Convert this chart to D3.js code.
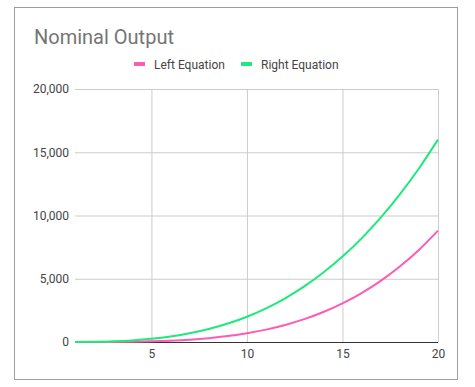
<!DOCTYPE html>
<html>
<head>
<meta charset="utf-8">
<script src="https://cdn.jsdelivr.net/npm/d3@7"></script>
<style>
  body { margin: 0; background: #fff; }
  text { font-family: Roboto, "Noto Sans", sans-serif; }
</style>
</head>
<body>
<script>
// values
var xValues = [1, 2, 3, 4, 5, 6, 7, 8, 9, 10, 11, 12, 13, 14, 15, 16, 17, 18, 19, 20]
var leftEquation = [0, 2, 8, 24, 54, 106, 186, 304, 468, 690, 979, 1348, 1805, 2372, 3056, 3872, 4835, 5971, 7278, 8800]
var rightEquation = [2, 16, 54, 128, 250, 432, 686, 1024, 1458, 2000, 2662, 3456, 4394, 5488, 6750, 8192, 9826, 11664, 13718, 16000]
var xTicks = [5, 10, 15, 20]
var yTicks = [0, 5000, 10000, 15000, 20000]
var seriesNames = ["Left Equation", "Right Equation"]
var seriesColors = ["#ff5ab4", "#1ee97a"]

var w = 475
var h = 387
var plotLeft = 75, plotRight = 438, plotTop = 89, plotBottom = 342

var svg = d3.select("body")
            .append("svg")
            .attr("width", w)
            .attr("height", h)

// outer frame
svg.append("rect")
  .attr("x", 14.5).attr("y", 7.5)
  .attr("width", 443).attr("height", 372)
  .attr("fill", "#fff")
  .attr("stroke", "#9e9e9e")

// title
svg.append("text")
  .attr("x", 34).attr("y", 44)
  .attr("font-size", 20)
  .attr("fill", "#757575")
  .text("Nominal Output")

// legend
var legendX = [134, 241]
seriesNames.forEach(function (name, i) {
  svg.append("rect")
    .attr("x", legendX[i]).attr("y", 62)
    .attr("width", 11).attr("height", 4)
    .attr("fill", seriesColors[i])
  svg.append("text")
    .attr("x", legendX[i] + 20).attr("y", 68.5)
    .attr("font-size", 12)
    .attr("fill", "#444")
    .text(name)
})

const xScale = d3.scaleLinear()
  .domain([1, 20])
  .range([plotLeft, plotRight])

const yScale = d3.scaleLinear()
  .domain([0, 20000])
  .range([plotBottom, plotTop])

// horizontal gridlines + y labels
const yAxis = d3.axisLeft(yScale)
  .tickValues(yTicks)
  .tickSize(-(plotRight - plotLeft))
  .tickPadding(6)
  .tickFormat(d3.format(","))
svg.append("g")
  .attr("transform", "translate(" + plotLeft + ",0)")
  .call(yAxis)
  .call(g => g.select(".domain").remove())
  .call(g => g.selectAll("line").attr("stroke", "#cccccc"))
  .call(g => g.selectAll("text").attr("font-size", 12).attr("fill", "#444").attr("font-family", "Roboto"))

// vertical gridlines + x labels
const xAxis = d3.axisBottom(xScale)
  .tickValues(xTicks)
  .tickSize(-(plotBottom - plotTop))
  .tickPadding(7)
svg.append("g")
  .attr("transform", "translate(0," + plotBottom + ")")
  .call(xAxis)
  .call(g => g.select(".domain").remove())
  .call(g => g.selectAll("line").attr("stroke", "#cccccc"))
  .call(g => g.selectAll("text").attr("font-size", 12).attr("fill", "#444").attr("font-family", "Roboto"))

// baseline
svg.append("line")
  .attr("x1", plotLeft).attr("x2", plotRight)
  .attr("y1", yScale(0) + 0.5).attr("y2", yScale(0) + 0.5)
  .attr("stroke", "#333")

// lines
var line = d3.line()
  .x((d, i) => xScale(xValues[i]))
  .y(d => yScale(d))
  .curve(d3.curveMonotoneX)

;[leftEquation, rightEquation].forEach(function (vals, i) {
  svg.append("path")
    .datum(vals)
    .attr("d", line)
    .attr("fill", "none")
    .attr("stroke", seriesColors[i])
    .attr("stroke-width", 2)
})
</script>
</body>
</html>
